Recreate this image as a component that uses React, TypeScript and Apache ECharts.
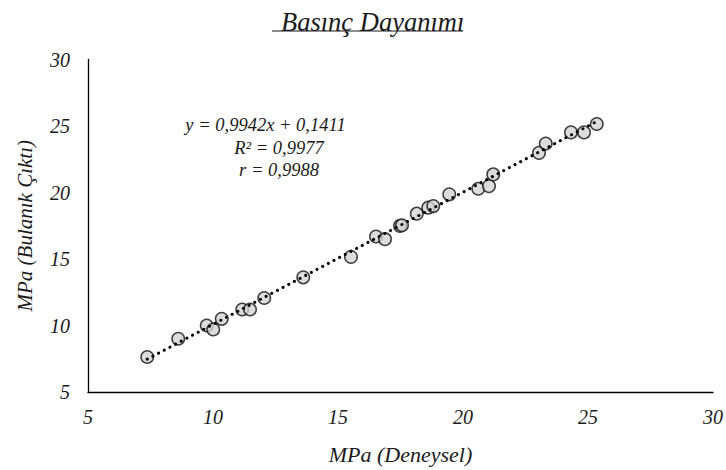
import React, { useEffect, useRef } from "react";
import * as echarts from "echarts";

const title = "Basınç Dayanımı";
const xAxisName = "MPa (Deneysel)";
const yAxisName = "MPa (Bulanık Çıktı)";
const xTicks = [5, 10, 15, 20, 25, 30];
const yTicks = [5, 10, 15, 20, 25, 30];

const experimental = [
  7.37, 8.61, 9.75, 10.01, 10.35, 11.17, 11.48, 12.05, 13.61, 15.52, 16.52, 16.88, 17.48,
  17.56, 18.15, 18.61, 18.81, 19.45, 20.61, 21.04, 21.21, 23.04, 23.31, 24.32, 24.84, 25.35,
];
const fuzzy = [
  7.63, 9.0, 10.0, 9.7, 10.5, 11.2, 11.2, 12.07, 13.62, 15.16, 16.69, 16.49, 17.49, 17.54,
  18.41, 18.86, 18.98, 19.86, 20.28, 20.48, 21.36, 22.98, 23.68, 24.52, 24.52, 25.15,
];
const slope = 0.9942;
const intercept = 0.1411;
const equationLines = ["y = 0,9942x + 0,1411", "R² = 0,9977", "r = 0,9988"];

const FONT = "Liberation Serif";
const TXT = "#1a1a1a";

export default function App() {
  const ref = useRef<HTMLDivElement>(null);
  useEffect(() => {
    document.body.style.margin = "0";
    const chart = echarts.init(ref.current!, null, { renderer: "svg" });
    const points = experimental.map((x, i) => [x, fuzzy[i]]);
    const xMin = Math.min(...experimental);
    const xMax = Math.max(...experimental);
    const trend = [
      [xMin, slope * xMin + intercept],
      [xMax, slope * xMax + intercept],
    ];
    const txt = (size: number) => ({
      fontFamily: FONT,
      fontStyle: "italic" as const,
      fontWeight: "normal" as const,
      fontSize: size,
      color: TXT,
    });
    chart.setOption({
      animation: false,
      backgroundColor: "#ffffff",
      textStyle: { fontFamily: FONT },
      title: {
        text: title,
        left: 276,
        top: 3,
        textStyle: txt(26.5),
      },
      grid: { left: 88, right: 13, top: 59.5, bottom: 76.5 },
      xAxis: {
        type: "value",
        min: xTicks[0],
        max: xTicks[xTicks.length - 1],
        interval: 5,
        name: xAxisName,
        nameLocation: "middle",
        nameGap: 51,
        nameTextStyle: txt(22),
        axisLine: { lineStyle: { color: "#000", width: 1.3 } },
        axisTick: { show: false },
        splitLine: { show: false },
        axisLabel: { ...txt(20), margin: 15 },
      },
      yAxis: {
        type: "value",
        min: yTicks[0],
        max: yTicks[yTicks.length - 1],
        interval: 5,
        name: yAxisName,
        nameLocation: "middle",
        nameGap: 53,
        nameTextStyle: txt(21),
        axisLine: { show: true, lineStyle: { color: "#000", width: 1.3 } },
        axisTick: { show: false },
        splitLine: { show: false },
        axisLabel: { ...txt(20), margin: 18 },
      },
      series: [
        {
          type: "scatter",
          data: points,
          symbol: "circle",
          symbolSize: 12.5,
          z: 2,
          itemStyle: { color: "#d3d3d3", borderColor: "#111", borderWidth: 1.5 },
        },
        {
          type: "line",
          data: trend,
          symbol: "none",
          z: 3,
          lineStyle: { color: "#000", width: 3, type: [0.1, 6.3], cap: "round" },
        },
      ],
      graphic: [
        {
          type: "line",
          shape: { x1: 272, y1: 31, x2: 463, y2: 31 },
          style: { stroke: TXT, lineWidth: 1.2 },
        },
        ...equationLines.map((t, i) => ({
          type: "text",
          x: [265.5, 279, 279][i],
          y: 125 + i * 22.5,
          style: {
            text: t,
            fontFamily: FONT,
            fontStyle: "italic",
            fontSize: 18.5,
            fill: TXT,
            textAlign: "center",
            textVerticalAlign: "middle",
          },
        })),
      ],
    });
    return () => chart.dispose();
  }, []);
  return <div ref={ref} style={{ width: 726, height: 470 }} />;
}
